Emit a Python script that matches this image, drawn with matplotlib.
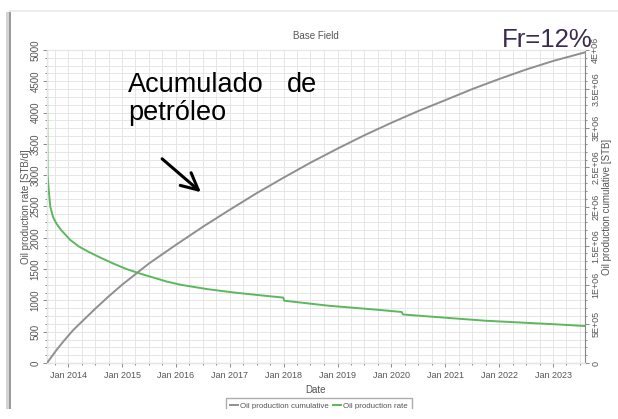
import matplotlib
matplotlib.use('Agg')
import matplotlib.pyplot as plt
import matplotlib.dates as mdates
from matplotlib.patches import Rectangle, FancyArrowPatch
from matplotlib.lines import Line2D
import pandas as pd

plt.rcParams['font.family'] = ['Liberation Sans', 'DejaVu Sans']

# oil production rate [STB/d]
rate_dates = ['2013-08-10', '2013-08-14', '2013-08-22', '2013-09-01', '2013-09-20',
              '2013-10-15', '2013-11-15', '2014-01-15', '2014-03-15', '2014-05-15',
              '2014-08-01', '2014-11-01', '2015-02-01', '2015-05-01', '2015-08-01',
              '2015-11-01', '2016-02-01', '2016-08-01', '2017-02-01', '2017-08-01',
              '2017-12-28', '2018-01-05', '2018-11-01', '2019-10-01', '2020-03-10',
              '2020-03-20', '2020-09-01', '2021-10-01', '2023-01-01', '2023-08-05']
rate_values = [4500, 3000, 2760, 2500, 2330,
               2220, 2120, 1965, 1860, 1780,
               1690, 1590, 1500, 1430, 1365,
               1300, 1250, 1180, 1125, 1080,
               1045, 995, 915, 850, 815,
               775, 745, 675, 620, 591]

# oil production cumulative [STB]
cum_dates = ['2013-08-10', '2013-10-15', '2013-12-01', '2014-02-03', '2014-04-15',
             '2014-07-01', '2014-10-01', '2015-01-01', '2015-07-01',
             '2016-01-01', '2016-07-01', '2017-01-01', '2017-07-01', '2018-01-01',
             '2018-07-01', '2019-01-01', '2019-07-01', '2020-01-01', '2020-07-01',
             '2021-01-01', '2021-07-01', '2022-01-01', '2022-07-01', '2023-01-01',
             '2023-08-05']
cum_values = [0, 0.17e6, 0.28e6, 0.42e6, 0.55e6,
              0.69e6, 0.85e6, 1.00e6, 1.27e6,
              1.51e6, 1.74e6, 1.96e6, 2.17e6, 2.37e6,
              2.56e6, 2.74e6, 2.91e6, 3.07e6, 3.22e6,
              3.36e6, 3.50e6, 3.63e6, 3.75e6, 3.86e6,
              3.97e6]

years = list(range(2014, 2024))
cum_ticks = [0, 5e5, 1e6, 1.5e6, 2e6, 2.5e6, 3e6, 3.5e6, 4e6]
cum_ticklabels = ['0', '5E+05', '1E+06', '1.5E+06', '2E+06', '2.5E+06', '3E+06', '3.5E+06', '4E+06']

rate_t = pd.to_datetime(rate_dates)
cum_t = pd.to_datetime(cum_dates)

fig = plt.figure(figsize=(6.18, 4.19), dpi=100)

# picture frame: soft shadow on the left/top
fig.patches.append(Rectangle((6 / 618, 0), 4 / 618, 1 - 12 / 419, transform=fig.transFigure,
                             facecolor='#d4d4d4', edgecolor='none', zorder=0))
fig.patches.append(Rectangle((9 / 618, 0), 1.5 / 618, 1 - 12 / 419, transform=fig.transFigure,
                             facecolor='#9a9a9a', edgecolor='none', zorder=0))
fig.patches.append(Rectangle((9 / 618, 1 - 12 / 419), 1, 1.5 / 419, transform=fig.transFigure,
                             facecolor='#ececec', edgecolor='none', zorder=0))

ax = fig.add_axes([47 / 618, 56 / 419, 538 / 618, 313 / 419])
ax2 = ax.twinx()

ax.plot(rate_t, rate_values, color='#5cb85c', lw=1.4, zorder=3)
ax2.plot(cum_t, cum_values, color='#8f8f8f', lw=1.4, zorder=3)

ax.set_xlim(pd.Timestamp('2013-08-10'), pd.Timestamp('2023-08-05'))
ax.set_ylim(0, 5000)
ax2.set_ylim(0, 4e6)

ax.set_yticks(range(0, 5001, 500))
ax.set_yticks(range(0, 5001, 125), minor=True)
ax2.set_yticks(cum_ticks)
ax2.set_yticklabels(cum_ticklabels)
ax2.set_yticks([i * 1e5 for i in range(41)], minor=True)

ax.set_xticks([pd.Timestamp(f'{y}-01-01') for y in years])
ax.set_xticklabels([f'Jan {y}' for y in years])
ax.xaxis.set_minor_locator(mdates.MonthLocator(bymonth=[1, 4, 7, 10]))

ax.grid(True, which='both', color='#e6e6e6', lw=0.7)
ax.set_axisbelow(True)

for a in (ax, ax2):
    for s in a.spines.values():
        s.set_color('#e6e6e6')
    a.tick_params(which='both', colors='#777777', labelcolor='#555555', length=3, width=0.6, pad=1.5)
    a.tick_params(which='minor', length=1.5)
ax.spines['left'].set_color('#888888')
ax.spines['bottom'].set_color('#888888')
ax2.spines['right'].set_color('#888888')
ax.tick_params(axis='x', labelsize=6.5, pad=3)
ax.tick_params(axis='y', labelsize=7)
ax2.tick_params(axis='y', labelsize=6.5)

for lbl in ax.get_yticklabels() + ax2.get_yticklabels():
    lbl.set_rotation(90)
    lbl.set_va('center')

ax.set_xlabel('Date', fontsize=7, color='#555555', labelpad=3)
ax.set_ylabel('Oil production rate [STB/d]', fontsize=7, color='#555555', labelpad=0)
ax2.set_ylabel('Oil production cumulative [STB]', fontsize=7, color='#555555', labelpad=1)
ax.set_title('Base Field', fontsize=7, color='#555555', pad=8)

# legend under the chart
handles = [Line2D([], [], color='#8f8f8f', lw=1.4), Line2D([], [], color='#5cb85c', lw=1.4)]
fig.legend(handles, ['Oil production cumulative', 'Oil production rate'],
           loc='center', bbox_to_anchor=(319 / 618, 1 - 406 / 419), ncol=2, fontsize=5.7,
           frameon=True, fancybox=False, edgecolor='#999999', handlelength=0.9,
           handletextpad=0.3, columnspacing=0.6, borderpad=0.5, labelcolor='#555555')

# bottom edge of the picture cuts the legend
fig.patches.append(Rectangle((0, 0), 1, 10 / 419, transform=fig.transFigure,
                             facecolor='white', edgecolor='none', zorder=10))

fig.text(128 / 618, 1 - 92 / 419, 'Acumulado', fontsize=19.5, color='black')
fig.text(287 / 618, 1 - 92 / 419, 'de', fontsize=19.5, color='black')
fig.text(128 / 618, 1 - 120 / 419, 'petróleo', fontsize=19.5, color='black')
fig.text(502 / 618, 1 - 47 / 419, 'Fr=12%', fontsize=18.5, color='#3b2a50')

fig.add_artist(FancyArrowPatch(
    (160 / 618, 1 - 157 / 419), (203 / 618, 1 - 194 / 419), transform=fig.transFigure,
    arrowstyle='->,head_length=12,head_width=6', color='black', lw=2.2, mutation_scale=1))

fig.savefig('out.png', dpi=100)
